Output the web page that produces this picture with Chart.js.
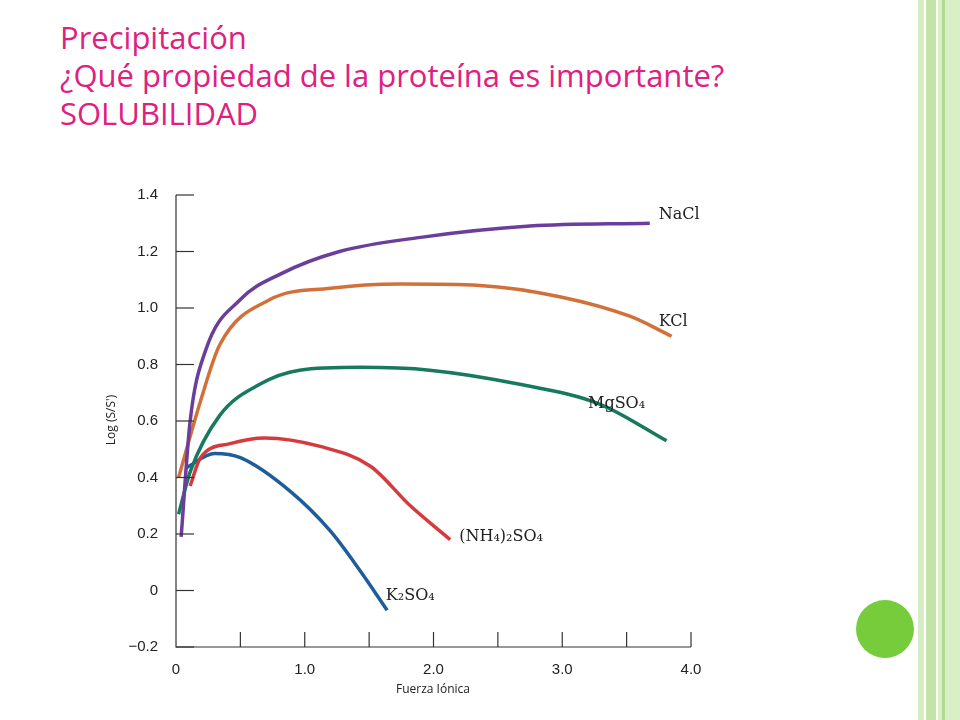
<!DOCTYPE html><html><head><meta charset="utf-8">
<script src="https://cdn.jsdelivr.net/npm/chart.js@4"></script>
<style>
body{margin:0;width:960px;height:720px;position:relative;background:#fff;overflow:hidden;font-family:"Open Sans",sans-serif}
#t{position:absolute;left:60px;top:18px;color:#e0207f;font-size:31px;line-height:38px;font-family:"Open Sans",sans-serif;font-weight:500}
.s{position:absolute;top:0;height:720px}
canvas{position:absolute;left:0;top:0}
</style></head><body>
<div class="s" style="left:918px;width:6px;background:#d6ecc2"></div>
<div class="s" style="left:926px;width:10px;background:#c4e3a8"></div>
<div class="s" style="left:938px;width:22px;background:#d9efc6"></div>
<div class="s" style="left:942px;width:3px;background:#b4d993"></div>
<div style="position:absolute;left:856px;top:600px;width:58px;height:58px;border-radius:50%;background:#77cc3c"></div>
<div id="t">Precipitación<br>¿Qué propiedad de la proteína es importante?<br>SOLUBILIDAD</div>
<canvas id="c" width="960" height="720"></canvas>
<script>
const naclX=[0.04,0.11,0.23,0.5,0.81,1.27,1.9,2.75,3.68];
const naclY=[0.19,0.6,0.85,1.03,1.12,1.2,1.25,1.29,1.3];
const kclX=[0.02,0.19,0.34,0.73,1.2,1.74,2.36,2.98,3.53,3.85];
const kclY=[0.4,0.67,0.87,1.03,1.07,1.085,1.08,1.04,0.97,0.9];
const mgX=[0.02,0.11,0.34,0.65,0.96,1.43,1.97,2.67,3.29,3.81];
const mgY=[0.27,0.42,0.62,0.73,0.78,0.79,0.78,0.73,0.66,0.53];
const nhX=[0.11,0.19,0.42,0.69,1.12,1.51,1.82,2.13];
const nhY=[0.37,0.47,0.52,0.54,0.51,0.44,0.30,0.18];
const kX=[0.08,0.30,0.5,0.89,1.2,1.43,1.64];
const kY=[0.435,0.485,0.47,0.35,0.21,0.07,-0.07];
const yTicks=[-0.2,0,0.2,0.4,0.6,0.8,1.0,1.2,1.4];
const xTickMarks=[0.5,1,1.5,2,2.5,3,3.5,4];
const labels=[["NaCl",3.75,1.33],["KCl",3.75,0.95],["MgSO₄",3.2,0.66],["(NH₄)₂SO₄",2.2,0.19],["K₂SO₄",1.63,-0.02]];
const pts=(xs,ys)=>xs.map((x,i)=>({x,y:ys[i]}));
const ds=(d,c)=>({data:d,borderColor:c,borderWidth:3.5,pointRadius:0,cubicInterpolationMode:'monotone',fill:false});
const deco={id:'deco',afterDraw(ch){const c=ch.ctx,xs=ch.scales.x,ys=ch.scales.y;c.save();c.strokeStyle='#333';c.lineWidth=1.2;
c.beginPath();c.moveTo(xs.left,ys.top);c.lineTo(xs.left,ys.bottom);c.lineTo(xs.right,ys.bottom);c.stroke();
yTicks.forEach(v=>{const p=ys.getPixelForValue(v);c.beginPath();c.moveTo(xs.left,p);c.lineTo(xs.left+18,p);c.stroke();});
xTickMarks.forEach(v=>{const p=xs.getPixelForValue(v);c.beginPath();c.moveTo(p,ys.bottom);c.lineTo(p,ys.bottom-15);c.stroke();});
c.fillStyle='#222';c.font='16px "DejaVu Serif",serif';c.textBaseline='middle';
labels.forEach(l=>{c.fillText(l[0],xs.getPixelForValue(l[1]),ys.getPixelForValue(l[2]));});
c.font='12px "Open Sans",sans-serif';c.textAlign='center';c.fillText('Fuerza Iónica',433,690);
c.translate(112,420);c.rotate(-Math.PI/2);c.fillText("Log (S/S')",0,0);c.restore();}};
new Chart(document.getElementById('c'),{type:'line',data:{datasets:[ds(pts(naclX,naclY),'#6b3e9b'),ds(pts(kclX,kclY),'#d2703a'),ds(pts(mgX,mgY),'#17795f'),ds(pts(nhX,nhY),'#d53a3e'),ds(pts(kX,kY),'#1d5d9b')]},
options:{responsive:false,animation:false,layout:{padding:{top:195,right:269,left:0,bottom:0}},plugins:{legend:{display:false},tooltip:{enabled:false}},
scales:{x:{type:'linear',min:0,max:4,afterFit:s=>{s.height=73},border:{display:false},grid:{display:false},ticks:{stepSize:1,color:'#222',font:{size:15,family:'Liberation Sans'},padding:6,callback:v=>v===0?'0':v.toFixed(1)}},
y:{min:-0.2,max:1.4,afterFit:s=>{s.width=176},border:{display:false},grid:{display:false},afterBuildTicks:s=>{s.ticks=yTicks.map(v=>({value:v}))},ticks:{color:'#222',font:{size:15,family:'Liberation Sans'},padding:10,callback:v=>Math.abs(v)<1e-9?'0':(v<0?'−'+(-v).toFixed(1):v.toFixed(1))}}}},plugins:[deco]});
</script></body></html>
